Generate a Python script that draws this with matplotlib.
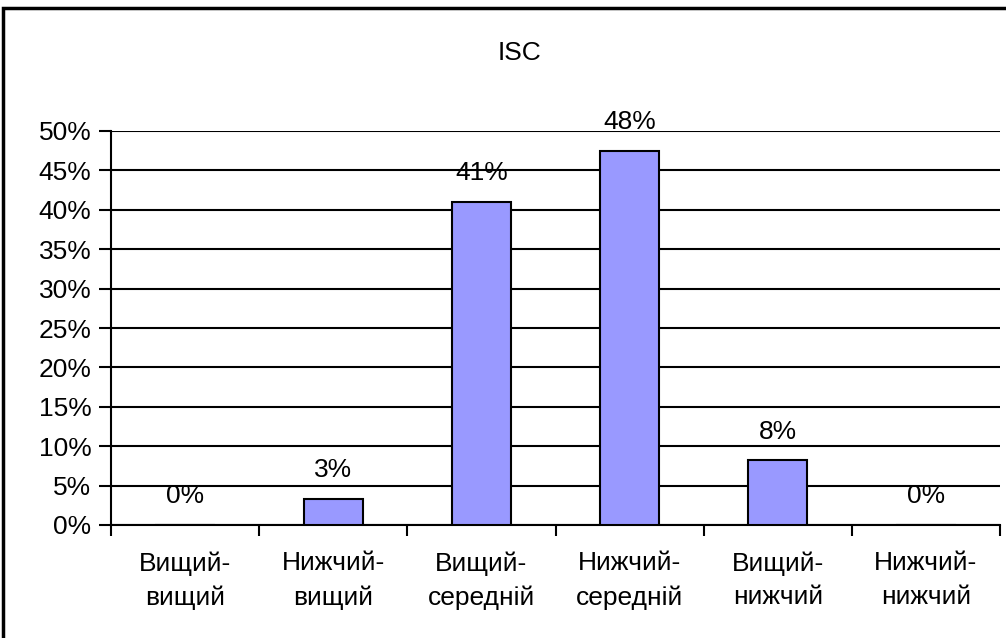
import numpy as np
from matplotlib import pyplot as plt
from matplotlib.patches import Rectangle
from matplotlib.ticker import FixedLocator, NullFormatter

plt.rcParams["font.family"] = ["Liberation Sans", "DejaVu Sans"]

categories = ["Вищий-\nвищий", "Нижчий-\nвищий", "Вищий-\nсередній",
              "Нижчий-\nсередній", "Вищий-\nнижчий", "Нижчий-\nнижчий"]
values = [0.0, 3.3, 41.0, 47.5, 8.2, 0.0]
labels = ["0%", "3%", "41%", "48%", "8%", "0%"]
yticks = [0, 5, 10, 15, 20, 25, 30, 35, 40, 45, 50]

fig = plt.figure(figsize=(10.06, 6.38), dpi=100)
ax = fig.add_axes((111 / 1006, 1 - 525 / 638, 889 / 1006, 394 / 638))

x = np.arange(len(categories))
ax.bar(x, values, width=0.4, color="#9999FF", edgecolor="black", linewidth=1.5, zorder=3)

for xi, v, lab in zip(x, values, labels):
    ax.annotate(lab, (xi, v), xytext=(0, 12), textcoords="offset points",
                ha="center", va="bottom", fontsize=19, zorder=4)

ax.set_xlim(-0.5, len(categories) - 0.5)
ax.set_ylim(0, 50)
ax.set_yticks(yticks)
ax.set_yticklabels([f"{t}%" for t in yticks], fontsize=19)
ax.yaxis.grid(True, color="black", linewidth=1.5, zorder=0)
ax.tick_params(axis="y", length=9, width=1.5, pad=5)

# category labels between boundary ticks
ax.xaxis.set_major_locator(FixedLocator(np.arange(len(categories) + 1) - 0.5))
ax.xaxis.set_major_formatter(NullFormatter())
ax.xaxis.set_minor_locator(FixedLocator(x))
ax.set_xticklabels(categories, minor=True, fontsize=19, linespacing=1.5)
ax.tick_params(axis="x", which="major", length=8, width=1.5, direction="out")
ax.tick_params(axis="x", which="minor", length=0, pad=19)

for s in ["top", "right"]:
    ax.spines[s].set_visible(False)
for s in ["left", "bottom"]:
    ax.spines[s].set_linewidth(1.5)

ax.set_title("ISC", fontsize=19, pad=51, x=0.46)

fig.patches.append(Rectangle((3 / 1006, -0.05), 1.1, 1 - 8 / 638 + 0.05,
                             transform=fig.transFigure, fill=False,
                             edgecolor="black", linewidth=2.5))

fig.savefig("out.png", dpi=100)
